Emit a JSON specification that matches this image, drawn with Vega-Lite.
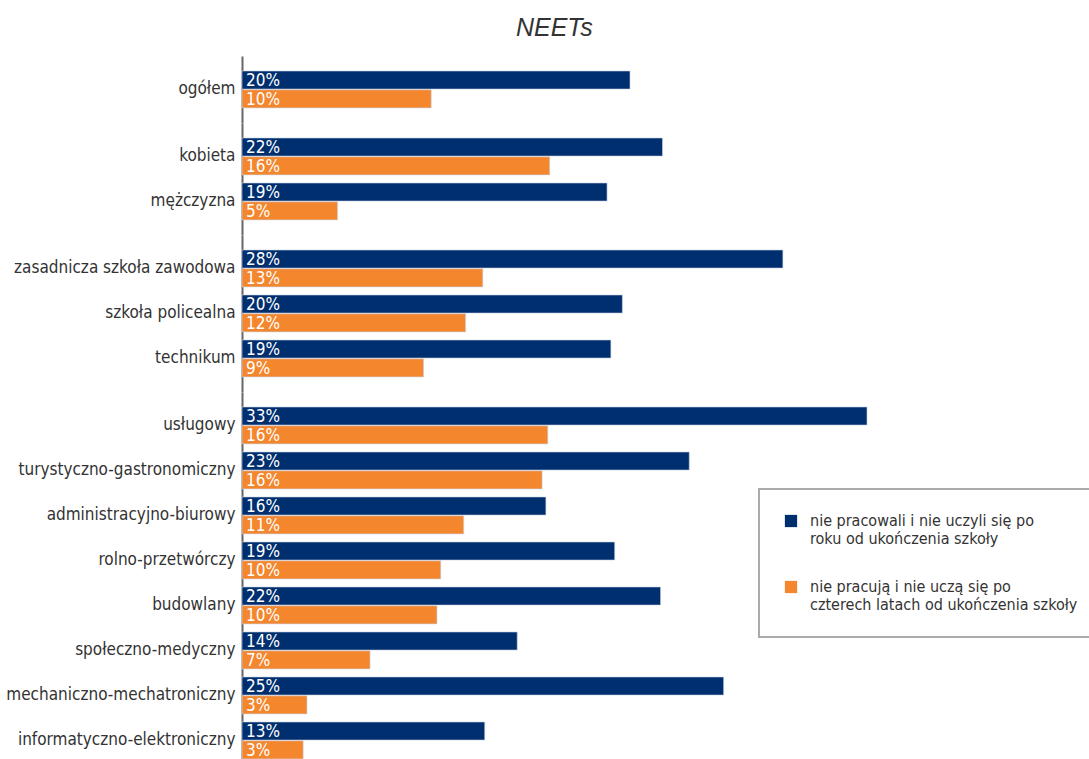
{
  "$schema": "https://vega.github.io/schema/vega-lite/v6.json",
  "background": "white",
  "padding": {"left": 5, "top": 16, "right": 0, "bottom": 0},
  "title": {"text": "NEETs", "fontStyle": "italic", "fontSize": 25, "font": "Liberation Sans", "fontWeight": "normal", "color": "#333333", "anchor": "middle", "offset": 15},
  "datasets": {
    "neet": [
      {"grp": 1, "ord": 1, "cat": "ogółem", "s": "nie pracowali i nie uczyli się po|roku od ukończenia szkoły", "v": 20.3, "lab": "20%"},
      {"grp": 1, "ord": 1, "cat": "ogółem", "s": "nie pracują i nie uczą się po|czterech latach od ukończenia szkoły", "v": 9.9, "lab": "10%"},
      {"grp": 2, "ord": 2, "cat": "kobieta", "s": "nie pracowali i nie uczyli się po|roku od ukończenia szkoły", "v": 22.0, "lab": "22%"},
      {"grp": 2, "ord": 2, "cat": "kobieta", "s": "nie pracują i nie uczą się po|czterech latach od ukończenia szkoły", "v": 16.1, "lab": "16%"},
      {"grp": 2, "ord": 3, "cat": "mężczyzna", "s": "nie pracowali i nie uczyli się po|roku od ukończenia szkoły", "v": 19.1, "lab": "19%"},
      {"grp": 2, "ord": 3, "cat": "mężczyzna", "s": "nie pracują i nie uczą się po|czterech latach od ukończenia szkoły", "v": 5.0, "lab": "5%"},
      {"grp": 3, "ord": 4, "cat": "zasadnicza szkoła zawodowa", "s": "nie pracowali i nie uczyli się po|roku od ukończenia szkoły", "v": 28.3, "lab": "28%"},
      {"grp": 3, "ord": 4, "cat": "zasadnicza szkoła zawodowa", "s": "nie pracują i nie uczą się po|czterech latach od ukończenia szkoły", "v": 12.6, "lab": "13%"},
      {"grp": 3, "ord": 5, "cat": "szkoła policealna", "s": "nie pracowali i nie uczyli się po|roku od ukończenia szkoły", "v": 19.9, "lab": "20%"},
      {"grp": 3, "ord": 5, "cat": "szkoła policealna", "s": "nie pracują i nie uczą się po|czterech latach od ukończenia szkoły", "v": 11.7, "lab": "12%"},
      {"grp": 3, "ord": 6, "cat": "technikum", "s": "nie pracowali i nie uczyli się po|roku od ukończenia szkoły", "v": 19.3, "lab": "19%"},
      {"grp": 3, "ord": 6, "cat": "technikum", "s": "nie pracują i nie uczą się po|czterech latach od ukończenia szkoły", "v": 9.5, "lab": "9%"},
      {"grp": 4, "ord": 7, "cat": "usługowy", "s": "nie pracowali i nie uczyli się po|roku od ukończenia szkoły", "v": 32.7, "lab": "33%"},
      {"grp": 4, "ord": 7, "cat": "usługowy", "s": "nie pracują i nie uczą się po|czterech latach od ukończenia szkoły", "v": 16.0, "lab": "16%"},
      {"grp": 4, "ord": 8, "cat": "turystyczno-gastronomiczny", "s": "nie pracowali i nie uczyli się po|roku od ukończenia szkoły", "v": 23.4, "lab": "23%"},
      {"grp": 4, "ord": 8, "cat": "turystyczno-gastronomiczny", "s": "nie pracują i nie uczą się po|czterech latach od ukończenia szkoły", "v": 15.7, "lab": "16%"},
      {"grp": 4, "ord": 9, "cat": "administracyjno-biurowy", "s": "nie pracowali i nie uczyli się po|roku od ukończenia szkoły", "v": 15.9, "lab": "16%"},
      {"grp": 4, "ord": 9, "cat": "administracyjno-biurowy", "s": "nie pracują i nie uczą się po|czterech latach od ukończenia szkoły", "v": 11.6, "lab": "11%"},
      {"grp": 4, "ord": 10, "cat": "rolno-przetwórczy", "s": "nie pracowali i nie uczyli się po|roku od ukończenia szkoły", "v": 19.5, "lab": "19%"},
      {"grp": 4, "ord": 10, "cat": "rolno-przetwórczy", "s": "nie pracują i nie uczą się po|czterech latach od ukończenia szkoły", "v": 10.4, "lab": "10%"},
      {"grp": 4, "ord": 11, "cat": "budowlany", "s": "nie pracowali i nie uczyli się po|roku od ukończenia szkoły", "v": 21.9, "lab": "22%"},
      {"grp": 4, "ord": 11, "cat": "budowlany", "s": "nie pracują i nie uczą się po|czterech latach od ukończenia szkoły", "v": 10.2, "lab": "10%"},
      {"grp": 4, "ord": 12, "cat": "społeczno-medyczny", "s": "nie pracowali i nie uczyli się po|roku od ukończenia szkoły", "v": 14.4, "lab": "14%"},
      {"grp": 4, "ord": 12, "cat": "społeczno-medyczny", "s": "nie pracują i nie uczą się po|czterech latach od ukończenia szkoły", "v": 6.7, "lab": "7%"},
      {"grp": 4, "ord": 13, "cat": "mechaniczno-mechatroniczny", "s": "nie pracowali i nie uczyli się po|roku od ukończenia szkoły", "v": 25.2, "lab": "25%"},
      {"grp": 4, "ord": 13, "cat": "mechaniczno-mechatroniczny", "s": "nie pracują i nie uczą się po|czterech latach od ukończenia szkoły", "v": 3.4, "lab": "3%"},
      {"grp": 4, "ord": 14, "cat": "informatyczno-elektroniczny", "s": "nie pracowali i nie uczyli się po|roku od ukończenia szkoły", "v": 12.7, "lab": "13%"},
      {"grp": 4, "ord": 14, "cat": "informatyczno-elektroniczny", "s": "nie pracują i nie uczą się po|czterech latach od ukończenia szkoły", "v": 3.2, "lab": "3%"}
    ]
  },
  "data": {"name": "neet"},
  "facet": {"row": {"field": "grp", "type": "ordinal", "header": null}},
  "spacing": {"row": 0},
  "resolve": {"scale": {"y": "independent", "yOffset": "independent"}},
  "spec": {
    "width": 625,
    "height": {"step": 45, "for": "position"},
    "encoding": {
      "y": {
        "field": "cat", "type": "nominal", "sort": {"field": "ord", "op": "min"},
        "scale": {"paddingInner": 0.18, "paddingOuter": 0.333},
        "axis": {"title": null, "domainColor": "#666666", "domainWidth": 2, "ticks": false, "grid": false, "labelFontSize": 17, "labelFont": "Liberation Sans Narrow, DejaVu Sans Condensed, sans-serif", "labelColor": "#333333", "labelPadding": 7, "labelLimit": 400}
      },
      "yOffset": {
        "field": "s", "type": "nominal",
        "sort": ["nie pracowali i nie uczyli się po|roku od ukończenia szkoły", "nie pracują i nie uczą się po|czterech latach od ukończenia szkoły"],
        "scale": {"paddingInner": 0.04}
      },
      "x": {"field": "v", "type": "quantitative", "scale": {"domain": [0, 32.7], "nice": false}, "axis": null}
    },
    "layer": [
      {
        "mark": {"type": "bar", "stroke": "#c9d2e3", "strokeWidth": 0.6},
        "encoding": {
          "color": {
            "field": "s", "type": "nominal",
            "scale": {"domain": ["nie pracowali i nie uczyli się po|roku od ukończenia szkoły", "nie pracują i nie uczą się po|czterech latach od ukończenia szkoły"], "range": ["#002f6f", "#f4862d"]},
            "legend": {
              "orient": "none", "legendX": 517, "legendY": 433, "title": null,
              "labelExpr": "split(datum.label, '|')"
            }
          }
        }
      },
      {
        "mark": {"type": "text", "align": "left", "baseline": "middle", "dx": 4, "dy": 1, "color": "white", "fontSize": 17, "font": "Liberation Sans Narrow, DejaVu Sans Condensed, sans-serif"},
        "encoding": {"x": {"datum": 0}, "text": {"field": "lab"}}
      }
    ]
  },
  "config": {
    "view": {"stroke": null},
    "legend": {
      "symbolType": "square", "symbolSize": 150, "symbolStrokeWidth": 0,
      "labelFontSize": 16, "labelFont": "Liberation Sans Narrow, DejaVu Sans Condensed, sans-serif", "labelColor": "#333333",
      "labelLimit": 400, "labelOffset": 11, "rowPadding": 32,
      "padding": 24, "strokeColor": "#aaaaaa", "strokeWidth": 2
    }
  }
}
